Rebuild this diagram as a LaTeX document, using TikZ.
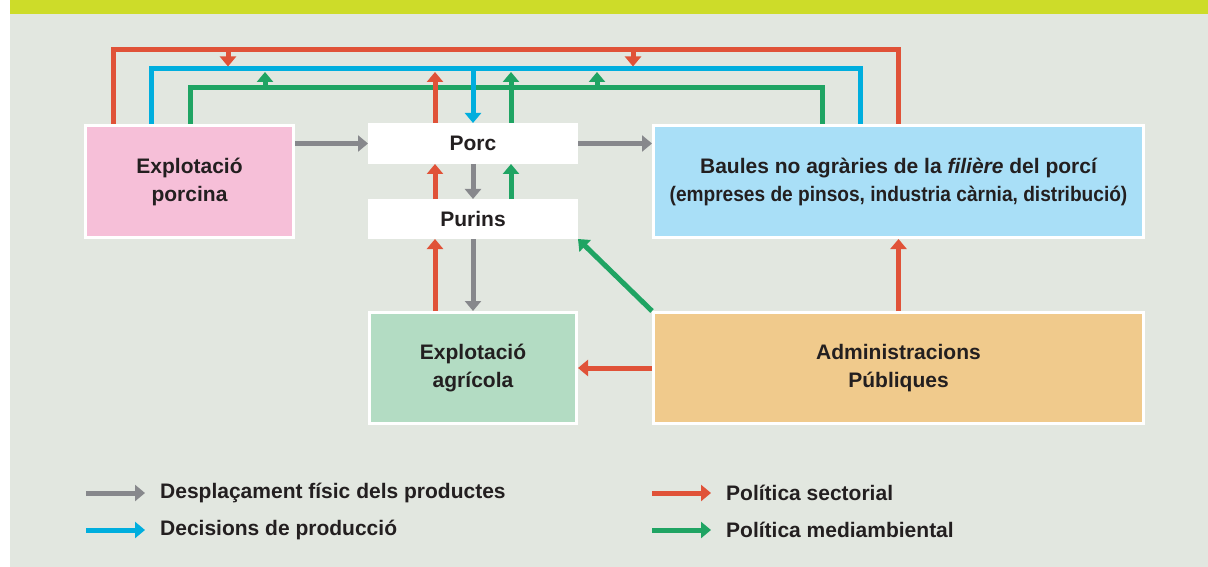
\documentclass[tikz,border=0pt]{standalone}
\usepackage{fontspec}
\setmainfont{Liberation Sans}
\usetikzlibrary{arrows.meta}
\definecolor{bgc}{HTML}{E2E7E0}
\definecolor{barc}{HTML}{CDDC29}
\definecolor{redc}{HTML}{E05238}
\definecolor{bluec}{HTML}{00AEDE}
\definecolor{greenc}{HTML}{1FA463}
\definecolor{grayc}{HTML}{87888C}
\definecolor{pinkc}{HTML}{F6BFD8}
\definecolor{lbluec}{HTML}{A9DFF7}
\definecolor{lgreenc}{HTML}{B3DCC3}
\definecolor{orangec}{HTML}{F0CA8C}
\definecolor{textc}{HTML}{231F20}
\tikzset{
  box/.style={draw=white, line width=3pt, align=center, text=textc,
    font=\fontsize{21}{28}\selectfont\bfseries},
  wbox/.style={fill=white, draw=none, outer sep=0pt, text=textc,
    font=\fontsize{21}{28}\selectfont\bfseries},
  conn/.style={line width=5pt, -{Triangle[length=10pt,width=16pt]}},
  loop/.style={line width=5pt},
  legtext/.style={anchor=west, inner sep=0pt, text=textc, font=\fontsize{21}{26}\selectfont\bfseries}
}
\begin{document}
\begin{tikzpicture}[x=1pt,y=-1pt]
\useasboundingbox (0,0) rectangle (1208,567);
\fill[white] (0,0) rectangle (1208,567);
\fill[bgc] (10,0) rectangle (1208,567);
\fill[barc] (10,0) rectangle (1208,14);

% nodes
\node[box, fill=pinkc, minimum width=208pt, minimum height=112pt] (porcina) at (189.5,181.5) {Explotació\\porcina};
\node[wbox, minimum width=210pt, minimum height=41pt] (porc) at (473,143.5) {Porc};
\node[wbox, minimum width=210pt, minimum height=40pt] (purins) at (473,219) {Purins};
\node[box, fill=lbluec, minimum width=490pt, minimum height=112pt] (baules) at (898.5,181.5)
  {Baules no agràries de la \textit{filière} del porcí\\\scalebox{0.91}[1]{(empreses de pinsos, industria càrnia, distribució)}};
\node[box, fill=lgreenc, minimum width=207pt, minimum height=111pt] (agricola) at (473,368) {Explotació\\agrícola};
\node[box, fill=orangec, minimum width=490pt, minimum height=111pt] (admin) at (898.5,368) {Administracions\\Públiques};

% helper coordinates
\coordinate (r1) at (113,50);
\coordinate (r2) at (898,50);
\coordinate (b1) at (151,69);
\coordinate (b2) at (860,69);
\coordinate (g1) at (190,88);
\coordinate (g2) at (822,88);
\coordinate (xa) at (435,0);
\coordinate (xb) at (473,69);
\coordinate (xc) at (511,0);
\coordinate (tipy) at (0,72);
\coordinate (rd1) at (228,50);
\coordinate (rd2) at (633,50);
\coordinate (gu1) at (265,88);
\coordinate (gu2) at (597,88);
\coordinate (rdt) at (0,66.5);

% top loops
\draw[loop, redc] (r1 |- porcina.north) -- (r1) -- (r2) -- (r2 |- baules.north);
\draw[loop, bluec] (b1 |- porcina.north) -- (b1) -- (b2) -- (b2 |- baules.north);
\draw[loop, greenc] (g1 |- porcina.north) -- (g1) -- (g2) -- (g2 |- baules.north);
\draw[conn, redc] (rd1) -- (rd1 |- rdt);
\draw[conn, redc] (rd2) -- (rd2 |- rdt);
\draw[conn, greenc] (gu1) -- (gu1 |- tipy);
\draw[conn, greenc] (gu2) -- (gu2 |- tipy);

% arrows at Porc top
\draw[conn, redc] (porc.north -| xa) -- (xa |- tipy);
\draw[conn, bluec] (xb) -- (porc.north);
\draw[conn, greenc] (porc.north -| xc) -- (xc |- tipy);

% gray flows
\draw[conn, grayc] (porc.west -| porcina.east) -- (porc.west);
\draw[conn, grayc] (porc.east) -- (porc.east -| baules.west);
\draw[conn, grayc] (porc.south) -- (purins.north);
\draw[conn, grayc] (purins.south) -- (agricola.north);

% between Porc and Purins
\draw[conn, redc] (purins.north -| xa) -- (porc.south -| xa);
\draw[conn, greenc] (purins.north -| xc) -- (porc.south -| xc);
\draw[conn, redc] (agricola.north -| xa) -- (purins.south -| xa);

% from administracions
\draw[conn, greenc] (admin.north west) -- (purins.south east);
\draw[conn, redc] (admin.west) -- (agricola.east);
\draw[conn, redc] (admin.north) -- (baules.south);

% legend
\coordinate (l1) at (86,493);
\coordinate (l2) at (86,530);
\coordinate (l3) at (652,493);
\coordinate (l4) at (652,530);
\node[legtext] (t1) at (160,493) {Desplaçament físic dels productes};
\node[legtext] (t2) at (160,530) {Decisions de producció};
\node[legtext] (t3) at (726,493) {Política sectorial};
\node[legtext] (t4) at (726,530) {Política mediambiental};
\draw[conn, grayc] (l1) -- ++(59,0);
\draw[conn, bluec] (l2) -- ++(59,0);
\draw[conn, redc] (l3) -- ++(59,0);
\draw[conn, greenc] (l4) -- ++(59,0);
\end{tikzpicture}
\end{document}
